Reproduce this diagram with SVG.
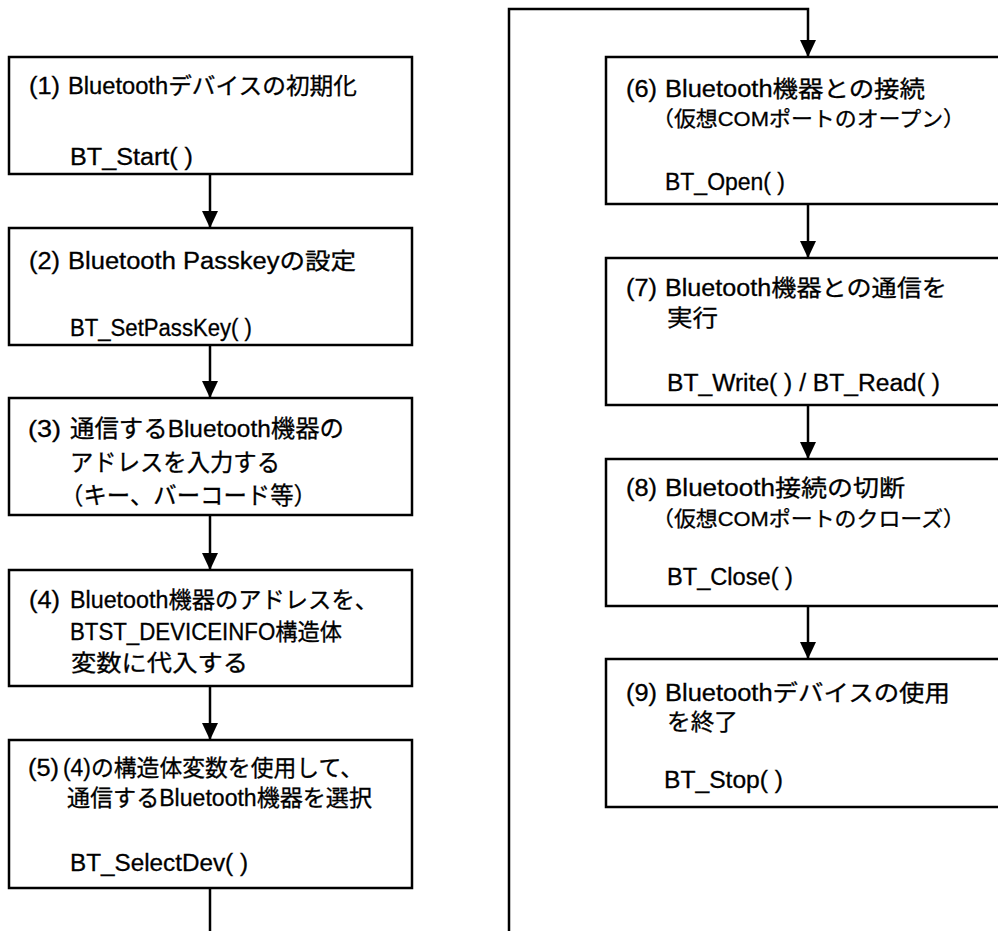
<svg xmlns="http://www.w3.org/2000/svg" width="998" height="931" viewBox="0 0 998 931">
<defs>
<marker id="ah" markerUnits="userSpaceOnUse" markerWidth="17" markerHeight="17" refX="17" refY="8" orient="auto"><path d="M0,0 L17,8 L0,16 z" fill="#000"/></marker>
<style>
.box{fill:#fff;stroke:#000;stroke-width:2.5}
.c{fill:none;stroke:#000;stroke-width:2.5}
text{font-family:"Liberation Sans","Noto Sans CJK JP",sans-serif;font-size:23px;fill:#000;stroke:#000;stroke-width:0.3}
.s{font-size:21px}
.l{font-size:24px}
</style>
</defs>
<rect width="998" height="931" fill="#fff"/>
<g id="connectors">
<path class="c" d="M210,174 V228" marker-end="url(#ah)"/>
<path class="c" d="M210,345 V398" marker-end="url(#ah)"/>
<path class="c" d="M210,515 V570" marker-end="url(#ah)"/>
<path class="c" d="M210,686 V740" marker-end="url(#ah)"/>
<path class="c" d="M210,888 V935"/>
<path class="c" d="M509,935 V9 H808 V57" marker-end="url(#ah)"/>
<path class="c" d="M808,204 V258" marker-end="url(#ah)"/>
<path class="c" d="M808,405 V459" marker-end="url(#ah)"/>
<path class="c" d="M808,606 V659" marker-end="url(#ah)"/>
</g>
<g id="n1">
<rect class="box" x="9" y="57" width="403" height="117"/>
<text x="29" y="94" textLength="31" lengthAdjust="spacingAndGlyphs">(1)</text>
<text x="68" y="94" textLength="289" lengthAdjust="spacingAndGlyphs">Bluetoothデバイスの初期化</text>
<text x="70" y="165" textLength="123" lengthAdjust="spacingAndGlyphs">BT_Start( )</text>
</g>
<g id="n2">
<rect class="box" x="9" y="228" width="403" height="117"/>
<text x="29" y="269" textLength="31" lengthAdjust="spacingAndGlyphs">(2)</text>
<text x="68" y="269" textLength="288" lengthAdjust="spacingAndGlyphs">Bluetooth Passkeyの設定</text>
<text x="70" y="336" textLength="182" lengthAdjust="spacingAndGlyphs">BT_SetPassKey( )</text>
</g>
<g id="n3">
<rect class="box" x="9" y="398" width="403" height="117"/>
<text class="l" x="28" y="437" textLength="33" lengthAdjust="spacingAndGlyphs">(3)</text>
<text class="l" x="70" y="437" textLength="274" lengthAdjust="spacingAndGlyphs">通信するBluetooth機器の</text>
<text class="l" x="70" y="471" textLength="210" lengthAdjust="spacingAndGlyphs">アドレスを入力する</text>
<text class="l" x="60" y="504" textLength="257" lengthAdjust="spacingAndGlyphs">（キー、バーコード等）</text>
</g>
<g id="n4">
<rect class="box" x="9" y="570" width="403" height="116"/>
<text x="29" y="608" textLength="31" lengthAdjust="spacingAndGlyphs">(4)</text>
<text x="70" y="608" textLength="308" lengthAdjust="spacingAndGlyphs">Bluetooth機器のアドレスを、</text>
<text x="70" y="640" textLength="272" lengthAdjust="spacingAndGlyphs">BTST_DEVICEINFO構造体</text>
<text x="71" y="671" textLength="177" lengthAdjust="spacingAndGlyphs">変数に代入する</text>
</g>
<g id="n5">
<rect class="box" x="9" y="740" width="403" height="148"/>
<text x="28" y="776" textLength="31" lengthAdjust="spacingAndGlyphs">(5)</text>
<text x="63" y="776" textLength="300" lengthAdjust="spacingAndGlyphs">(4)の構造体変数を使用して、</text>
<text x="67" y="806" textLength="305" lengthAdjust="spacingAndGlyphs">通信するBluetooth機器を選択</text>
<text x="70" y="871" textLength="178" lengthAdjust="spacingAndGlyphs">BT_SelectDev( )</text>
</g>
<g id="n6">
<rect class="box" x="606" y="57" width="400" height="147"/>
<text x="626" y="97" textLength="31" lengthAdjust="spacingAndGlyphs">(6)</text>
<text x="665" y="97" textLength="260" lengthAdjust="spacingAndGlyphs">Bluetooth機器との接続</text>
<text class="s" x="652" y="126" textLength="313" lengthAdjust="spacingAndGlyphs">（仮想COMポートのオープン）</text>
<text x="665" y="190" textLength="120" lengthAdjust="spacingAndGlyphs">BT_Open( )</text>
</g>
<g id="n7">
<rect class="box" x="606" y="258" width="400" height="147"/>
<text x="626" y="296" textLength="31" lengthAdjust="spacingAndGlyphs">(7)</text>
<text x="665" y="296" textLength="282" lengthAdjust="spacingAndGlyphs">Bluetooth機器との通信を</text>
<text x="667" y="326" textLength="51" lengthAdjust="spacingAndGlyphs">実行</text>
<text x="667" y="391" textLength="273" lengthAdjust="spacingAndGlyphs">BT_Write( ) / BT_Read( )</text>
</g>
<g id="n8">
<rect class="box" x="606" y="459" width="400" height="147"/>
<text x="626" y="496" textLength="31" lengthAdjust="spacingAndGlyphs">(8)</text>
<text x="665" y="496" textLength="240" lengthAdjust="spacingAndGlyphs">Bluetooth接続の切断</text>
<text class="s" x="652" y="526" textLength="313" lengthAdjust="spacingAndGlyphs">（仮想COMポートのクローズ）</text>
<text x="667" y="585" textLength="126" lengthAdjust="spacingAndGlyphs">BT_Close( )</text>
</g>
<g id="n9">
<rect class="box" x="606" y="659" width="400" height="148"/>
<text x="626" y="701" textLength="31" lengthAdjust="spacingAndGlyphs">(9)</text>
<text x="665" y="701" textLength="285" lengthAdjust="spacingAndGlyphs">Bluetoothデバイスの使用</text>
<text x="667" y="730" textLength="71" lengthAdjust="spacingAndGlyphs">を終了</text>
<text x="664" y="788" textLength="119" lengthAdjust="spacingAndGlyphs">BT_Stop( )</text>
</g>
</svg>
